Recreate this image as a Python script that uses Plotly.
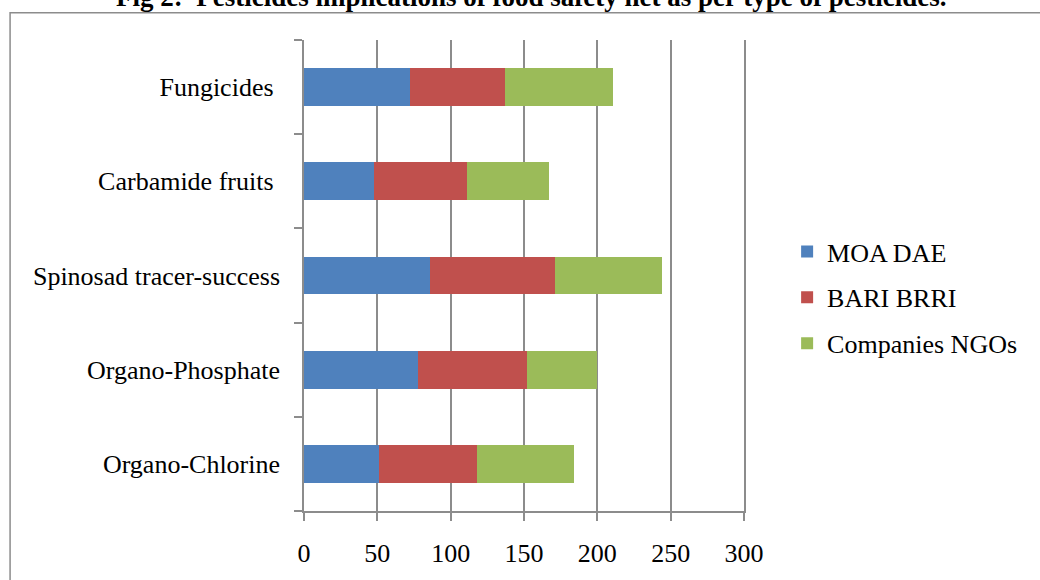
import plotly.graph_objects as go

# Pesticide types (bottom to top) and the counts per responding group
categories = ["Organo-Chlorine", "Organo-Phosphate", "Spinosad tracer-success",
              "Carbamide fruits", "Fungicides"]
tick_labels = ["Organo-Chlorine", "Organo-Phosphate", "Spinosad tracer-success",
               "Carbamide fruits\u00a0", "Fungicides\u00a0"]
moa_dae = [51, 78, 86, 48, 72]
bari_brri = [67, 74, 85, 63, 65]
companies_ngos = [66, 48, 73, 56, 74]
x_ticks = [0, 50, 100, 150, 200, 250, 300]

FONT = "Liberation Serif"
GRID = "#8c8c8c"

series = [
    ("MOA DAE", moa_dae, "#4F81BD"),
    ("BARI BRRI", bari_brri, "#C0504D"),
    ("Companies NGOs", companies_ngos, "#9BBB59"),
]

fig = go.Figure()
for name, vals, color in series:
    fig.add_trace(go.Bar(
        y=categories, x=vals, name=name, orientation="h",
        marker=dict(color=color, line=dict(width=0)),
        legendgroup=name,
    ))

fig.update_layout(
    width=1040, height=580,
    barmode="stack", bargap=0.6,
    plot_bgcolor="white", paper_bgcolor="white",
    margin=dict(l=304, r=296, t=40, b=56),
    font=dict(family=FONT, size=26, color="black"),
    showlegend=True,
    legend=dict(
        x=1.098, xanchor="left", y=0.453, yanchor="middle",
        traceorder="grouped", tracegroupgap=9,
        font=dict(family=FONT, size=26, color="black"),
        bgcolor="rgba(0,0,0,0)", borderwidth=0,
    ),
    xaxis=dict(
        range=[0, 300], tickvals=x_ticks,
        showgrid=True, gridcolor=GRID, gridwidth=1.5,
        showline=True, linecolor=GRID, linewidth=1.5,
        ticks="outside", ticklen=8, tickcolor=GRID, tickwidth=1.5,
        ticklabelstandoff=10, zeroline=False,
        tickfont=dict(family=FONT, size=26, color="black"),
    ),
    yaxis=dict(
        categoryorder="array", categoryarray=categories,
        tickvals=categories, ticktext=tick_labels,
        tickson="boundaries",
        showgrid=False,
        showline=True, linecolor=GRID, linewidth=1.5, mirror=True,
        ticks="outside", ticklen=8, tickcolor=GRID, tickwidth=1.5,
        ticklabelstandoff=17,
        tickfont=dict(family=FONT, size=26, color="black"),
    ),
    shapes=[dict(
        type="rect", xref="paper", yref="paper",
        x0=-0.668, x1=1.70, y0=-0.15, y1=1.0579,
        line=dict(color=GRID, width=1.5), fillcolor="rgba(0,0,0,0)",
        layer="below",
    )],
    annotations=[dict(
        text="<b>Fig 2:  Pesticides implications of food safety net as per type of pesticides.</b>",
        xref="paper", yref="paper", x=0.517, y=1.056,
        xanchor="center", yanchor="bottom", showarrow=False,
        font=dict(family=FONT, size=27, color="black"),
    )],
)

fig.write_html("out.html")
